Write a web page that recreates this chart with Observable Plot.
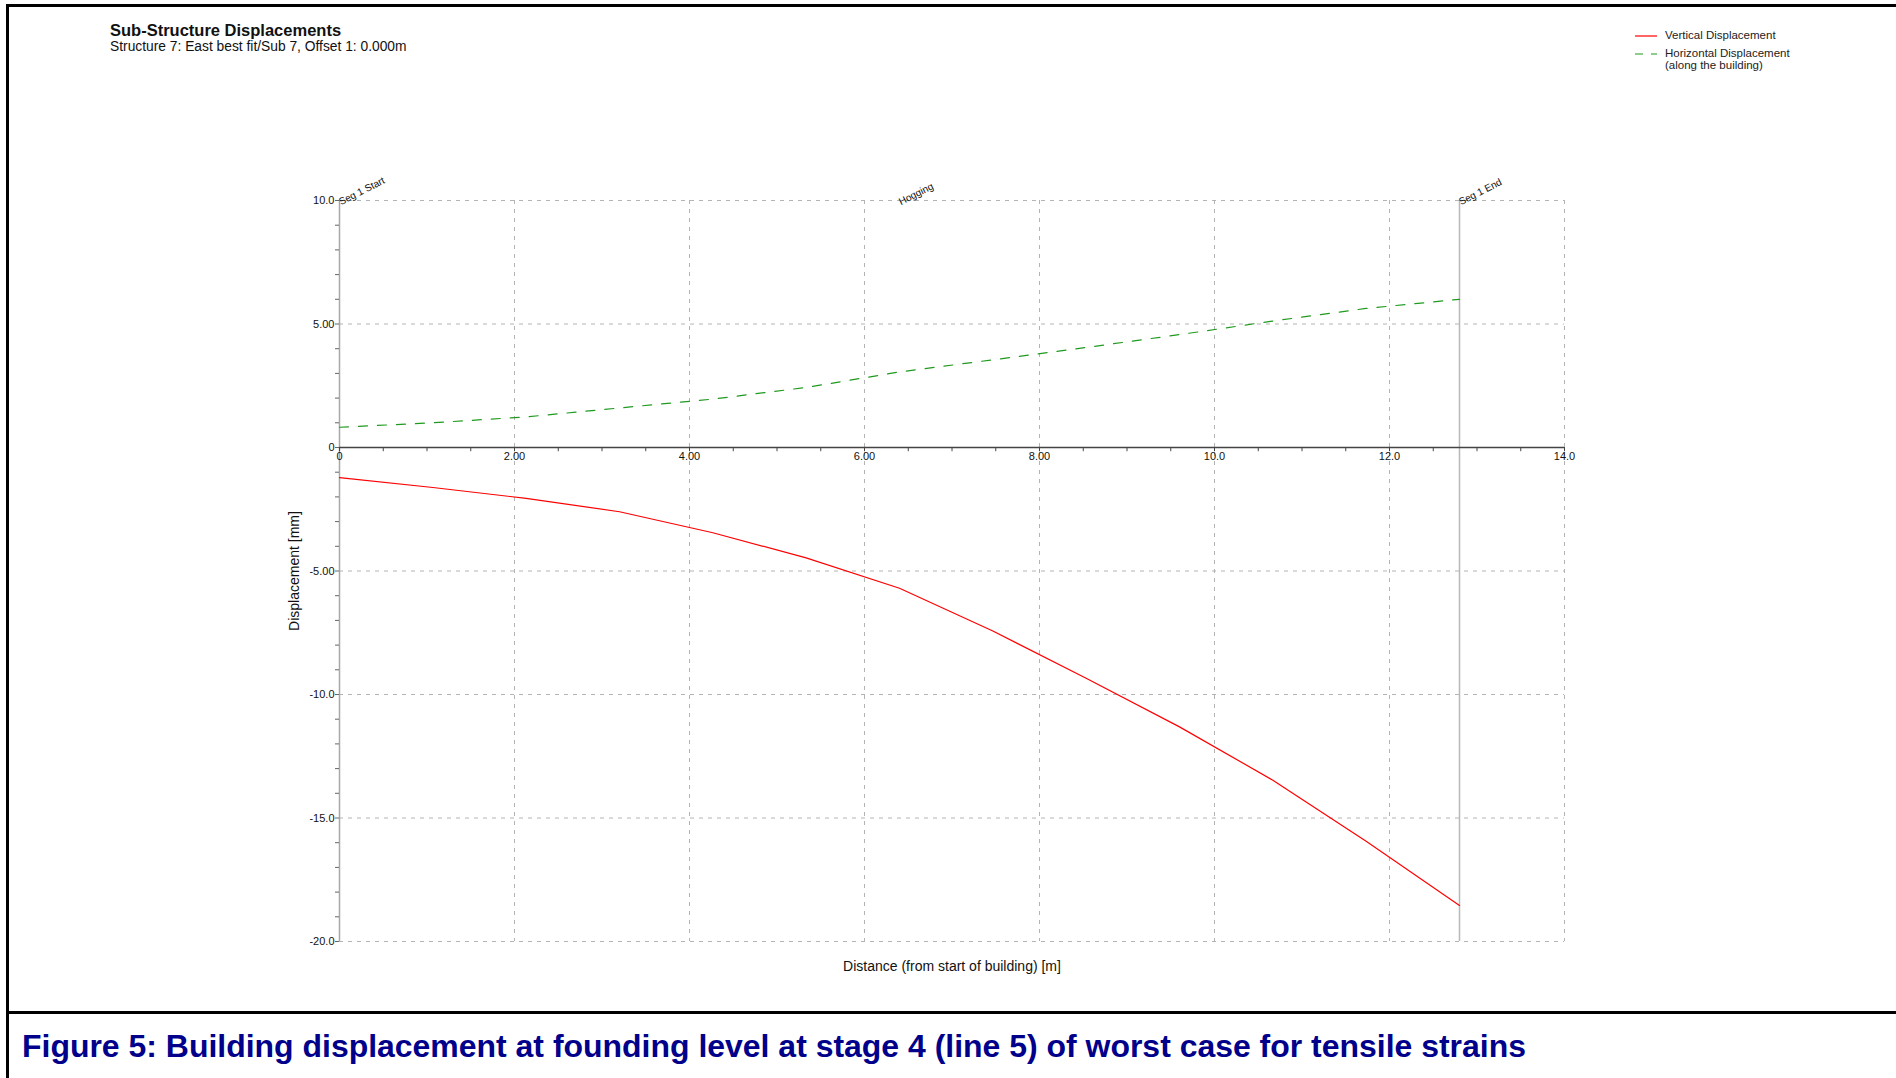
<!DOCTYPE html>
<html>
<head>
<meta charset="utf-8">
<script src="https://cdn.jsdelivr.net/npm/d3@7"></script>
<script src="https://cdn.jsdelivr.net/npm/@observablehq/plot@0.6"></script>
<style>
  body { margin: 0; background: #fff; font-family: Arial, "Liberation Sans", sans-serif; }
  #page { position: relative; width: 1896px; height: 1078px; overflow: hidden; background: #fff; }
  .bar { position: absolute; background: #000; }
  #title { position: absolute; left: 110px; top: 21px; font-size: 16.5px; font-weight: bold; color: #111; white-space: nowrap; }
  #subtitle { position: absolute; left: 110px; top: 39px; font-size: 13.8px; color: #111; white-space: nowrap; }
  #legend { position: absolute; left: 1632px; top: 28px; font-size: 11.5px; color: #222; }
  .lg { position: absolute; white-space: nowrap; }
  #chart { position: absolute; left: 0; top: 140px; }
  #caption { position: absolute; left: 22px; top: 1028px; font-size: 32px; font-weight: bold; color: #00008b; white-space: nowrap; transform-origin: 0 0; }
</style>
</head>
<body>
<div id="page">
  <div class="bar" style="left:6px;top:4px;width:3px;height:1074px"></div>
  <div class="bar" style="left:6px;top:4px;width:1890px;height:3px"></div>
  <div class="bar" style="left:6px;top:1011px;width:1890px;height:3px"></div>
  <div id="title"></div>
  <div id="subtitle"></div>
  <div id="legend"></div>
  <div id="chart"></div>
  <div id="caption"></div>
</div>
<script>
// ---- Texts ----
const titleText = "Sub-Structure Displacements";
const subtitleText = "Structure 7: East best fit/Sub 7, Offset 1: 0.000m";
const captionText = "Figure 5: Building displacement at founding level at stage 4 (line 5) of worst case for tensile strains";
const xLabel = "Distance (from start of building) [m]";
const yLabel = "Displacement [mm]";
const seriesNames = ["Vertical Displacement", "Horizontal Displacement", "(along the building)"];

// ---- Data (distance along building [m], displacements [mm]) ----
const distance = [0, 1.067, 2.133, 3.2, 4.267, 5.333, 6.4, 7.467, 8.533, 9.6, 10.667, 11.733, 12.8];
const verticalDisp = [-1.22, -1.62, -2.06, -2.60, -3.45, -4.47, -5.70, -7.43, -9.34, -11.31, -13.47, -15.94, -18.54];
const horizontalDisp = [0.82, 1.00, 1.24, 1.60, 1.96, 2.43, 3.06, 3.55, 4.05, 4.57, 5.12, 5.63, 6.00];

// ---- Ticks ----
const xMajorTicks = [0, 2, 4, 6, 8, 10, 12, 14];
const xTickLabels = ["0", "2.00", "4.00", "6.00", "8.00", "10.0", "12.0", "14.0"];
const xMinorTicks = [0, 0.5, 1, 1.5, 2, 2.5, 3, 3.5, 4, 4.5, 5, 5.5, 6, 6.5, 7, 7.5, 8, 8.5, 9, 9.5, 10, 10.5, 11, 11.5, 12, 12.5, 13, 13.5, 14];
const xGridTicks = [2, 4, 6, 8, 10, 12, 14];
const yMajorTicks = [-20, -15, -10, -5, 0, 5, 10];
const yTickLabels = ["-20.0", "-15.0", "-10.0", "-5.00", "0", "5.00", "10.0"];
const yMinorTicks = [-19, -18, -17, -16, -14, -13, -12, -11, -9, -8, -7, -6, -4, -3, -2, -1, 1, 2, 3, 4, 6, 7, 8, 9];
const yGridTicks = [-20, -15, -10, -5, 5, 10];

// ---- Segment annotations ----
const annotPositions = [0, 6.4, 12.8];
const annotLabels = ["Seg 1 Start", "Hogging", "Seg 1 End"];
const segEnd = [12.8];

const rows = distance.map((x, i) => ({x, v: verticalDisp[i], h: horizontalDisp[i]}));

document.getElementById("title").textContent = titleText;
document.getElementById("subtitle").textContent = subtitleText;

// Legend
document.getElementById("legend").innerHTML = `
  <svg class="lg" style="left:0;top:0" width="30" height="40">
    <line x1="3" y1="8" x2="25" y2="8" stroke="#ff0000" stroke-width="1.2"/>
    <line x1="3" y1="26" x2="25" y2="26" stroke="#1f9a1f" stroke-width="1.2" stroke-dasharray="8,8"/>
  </svg>
  <div class="lg" style="left:33px;top:1px">${seriesNames[0]}</div>
  <div class="lg" style="left:33px;top:19px">${seriesNames[1]}</div>
  <div class="lg" style="left:33px;top:31px">${seriesNames[2]}</div>`;

const chart = Plot.plot({
  width: 1896,
  height: 860,
  marginLeft: 339,
  marginRight: 332,
  marginTop: 60,
  marginBottom: 59,
  style: {fontFamily: "Arial, 'Liberation Sans', sans-serif", fontSize: "11px", color: "#222", background: "transparent", overflow: "visible"},
  x: {domain: [0, 14], axis: null},
  y: {domain: [-20, 10], axis: null},
  marks: [
    Plot.gridX({ticks: xGridTicks, stroke: "#b4b4b4", strokeOpacity: 1, strokeDasharray: "4,5"}),
    Plot.gridY({ticks: yGridTicks, stroke: "#b4b4b4", strokeOpacity: 1, strokeDasharray: "4,5"}),
    Plot.ruleX([0], {stroke: "#a8a8a8", strokeWidth: 1.5}),
    Plot.ruleX(segEnd, {stroke: "#b8b8b8", strokeWidth: 1.5}),
    Plot.ruleY([0], {stroke: "#444", strokeWidth: 1.5}),
    Plot.axisY({ticks: yMinorTicks, tickSize: 4, tickFormat: () => "", stroke: "#666", label: null}),
    Plot.axisY({ticks: yMajorTicks, tickSize: 4, tickPadding: 1, tickFormat: d => yTickLabels[yMajorTicks.indexOf(d)], stroke: "#666", fill: "#111", fontSize: 11, label: null}),
    Plot.ruleX(xMinorTicks, {x: d => d, y1: () => 0, y2: () => -0.17, stroke: "#444"}),
    Plot.text(xMajorTicks, {x: d => d, y: () => 0, dy: 9, text: (d, i) => xTickLabels[i], fill: "#111", fontSize: 11}),
    Plot.text(annotPositions, {x: d => d, y: () => 10, text: (d, i) => annotLabels[i], rotate: -27, textAnchor: "start", dy: 2, fontSize: 10, fill: "#111"}),
    Plot.line(rows, {x: "x", y: "h", stroke: "#1f9a1f", strokeWidth: 1.2, strokeDasharray: "9,10"}),
    Plot.line(rows, {x: "x", y: "v", stroke: "#ff0000", strokeWidth: 1.2}),
    Plot.text([yLabel], {frameAnchor: "left", rotate: -90, dx: -45, textAnchor: "middle", text: d => d, fontSize: 14, fill: "#111"}),
    Plot.text([xLabel], {frameAnchor: "bottom", dy: 29, textAnchor: "middle", text: d => d, fontSize: 14, fill: "#111"})
  ]
});
document.getElementById("chart").appendChild(chart);

const cap = document.getElementById("caption");
cap.textContent = captionText;
const w = cap.getBoundingClientRect().width;
cap.style.transform = `scaleX(${1504 / w})`;
</script>
</body>
</html>
